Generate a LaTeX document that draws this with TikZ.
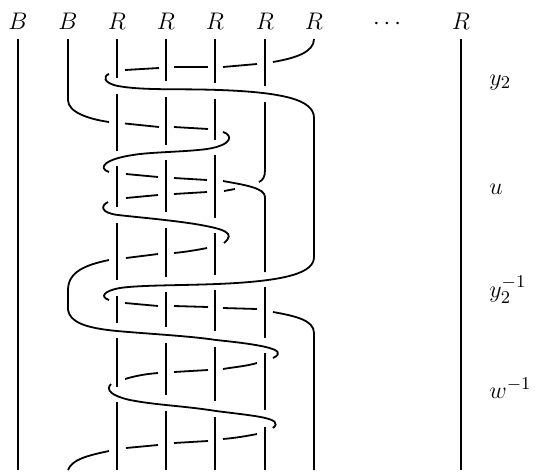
\documentclass[tikz,border=0pt]{standalone}
\DeclareMathSizes{12}{12}{9.2}{7}
\tikzset{
    strand/.style={line width=0.9pt},
    lab/.style={font=\large, inner sep=0pt, anchor=base},
    sidelab/.style={font=\large, inner sep=0pt, anchor=base west}
}
\begin{document}
\begin{tikzpicture}[x=0.5pt, y=-0.5pt]
    \useasboundingbox (0,0) rectangle (540,471);

    % Top labels
    \node[lab] (b1) at (18,29.5) {$B$};
    \node[lab] (b2) at (68,29.5) {$B$};
    \node[lab] (r1) at (117,29.5) {$R$};
    \node[lab] (r2) at (166,29.5) {$R$};
    \node[lab] (r3) at (215,29.5) {$R$};
    \node[lab] (r4) at (265,29.5) {$R$};
    \node[lab] (r5) at (314,29.5) {$R$};
    \node[lab] (dots) at (387,29.5) {$\cdots$};
    \node[lab] (rn) at (461,29.5) {$R$};

    % Side labels
    \node[sidelab] (y2) at (489,85) {$y_2$};
    \node[sidelab] (u) at (489,194) {$u$};
    \node[sidelab] (y2inv) at (489,297) {$y_2^{-1}$};
    \node[sidelab] (winv) at (489,398) {$w^{-1}$};

    % Straight strands
    \draw[strand] (18,39) -- (18,470);
    \draw[strand] (461,39) -- (461,470);

    % First R strand
    \draw[strand] (117,39) -- (117,78);
    \draw[strand] (117,94) -- (117,151);
    \draw[strand] (117,166) -- (117,207);
    \draw[strand] (117,223) -- (117,280);
    \draw[strand] (117,296) -- (117,323);
    \draw[strand] (117,338) -- (117,387);
    \draw[strand] (117,402) -- (117,470);

    % Second R strand
    \draw[strand] (166,39) -- (166,81);
    \draw[strand] (166,97) -- (166,145);
    \draw[strand] (166,160) -- (166,212);
    \draw[strand] (166,228) -- (166,277);
    \draw[strand] (166,292) -- (166,327);
    \draw[strand] (166,343) -- (166,395);
    \draw[strand] (166,411) -- (166,470);

    % Third R strand
    \draw[strand] (215,39) -- (215,83);
    \draw[strand] (215,99) -- (215,140);
    \draw[strand] (215,155) -- (215,218);
    \draw[strand] (215,233) -- (215,275);
    \draw[strand] (215,290) -- (215,331);
    \draw[strand] (215,347) -- (215,401);
    \draw[strand] (215,417) -- (215,470);

    % Fourth R strand
    \draw[strand] (265,39) -- (265,86);
    \draw[strand] (265,102) -- (265,170) .. controls (265,177) and (263,180) .. (259,182);
    \draw[strand] (265,287) -- (265,338);
    \draw[strand] (265,353) -- (265,410);
    \draw[strand] (265,427) -- (265,470);

    % Fifth R strand, goes over to the left and comes back
    \draw[strand] (314,39) .. controls (314,52) and (296,58) .. (273,62);
    \draw[strand] (257,64) -- (223,67);
    \draw[strand] (208,67) -- (174,67);
    \draw[strand] (159,68) -- (125,70);
    \draw[strand] (109,74) .. controls (103,76) and (103,83) .. (118,86)
        .. controls (140,90) and (170,89) .. (200,89.5)
        .. controls (285,91) and (314,100) .. (314,118) -- (314,257)
        .. controls (314,272) and (290,281) .. (217,284)
        .. controls (180,285.5) and (140,285) .. (120,288)
        .. controls (103,291) and (100,297) .. (109,300);
    \draw[strand] (125,303) -- (158,306);
    \draw[strand] (174,306) -- (208,307);
    \draw[strand] (223,308) -- (257,309);
    \draw[strand] (273,312) .. controls (295,316) and (314,320) .. (314,333) -- (314,470);

    % Second B strand
    \draw[strand] (68,39) -- (68,100) .. controls (68,112) and (88,119) .. (109,122);
    \draw[strand] (125,123.5) -- (159,127);
    \draw[strand] (174,127) -- (208,129);
    \draw[strand] (223,132) .. controls (233,135) and (233,145) .. (207,149)
        .. controls (185,152) and (150,152) .. (133,155)
        .. controls (105,159) and (97,168) .. (109,172);
    \draw[strand] (126,174) -- (158,177);
    \draw[strand] (174,178) -- (207,180);
    \draw[strand] (223,181) .. controls (245,185) and (265,188) .. (265,197) -- (265,272);

    % Return of the fourth strand
    \draw[strand] (235,189) -- (224,191);
    \draw[strand] (207,192) -- (174,194);
    \draw[strand] (158,195) -- (126,198);
    \draw[strand] (108,202) .. controls (100,206) and (101,213) .. (118,215)
        .. controls (135,217) and (170,220) .. (195,224)
        .. controls (225,229) and (236,233) .. (224,243);
    \draw[strand] (207,248) .. controls (197,250) and (185,252) .. (174,253);
    \draw[strand] (158,254) -- (126,258);
    \draw[strand] (109,260) .. controls (85,265) and (68,272) .. (68,290) -- (68,310)
        .. controls (70,322) and (85,328) .. (117,331)
        .. controls (150,334) and (190,336) .. (216,340)
        .. controls (255,344) and (292,349) .. (273,358);
    \draw[strand] (257,363) .. controls (247,366) and (235,367) .. (223,369);
    \draw[strand] (208,370) -- (174,372);
    \draw[strand] (158,373) .. controls (145,374) and (135,376) .. (125,379);
    \draw[strand] (111,384) .. controls (105,390) and (112,396) .. (130,400)
        .. controls (155,405) and (185,406) .. (216,411)
        .. controls (255,416) and (285,418) .. (273,428);
    \draw[strand] (257,434) .. controls (247,436) and (235,438) .. (223,439);
    \draw[strand] (208,441) -- (174,443);
    \draw[strand] (158,445) -- (126,448);
    \draw[strand] (109,451) .. controls (85,456) and (72,460) .. (68,470);
\end{tikzpicture}
\end{document}
